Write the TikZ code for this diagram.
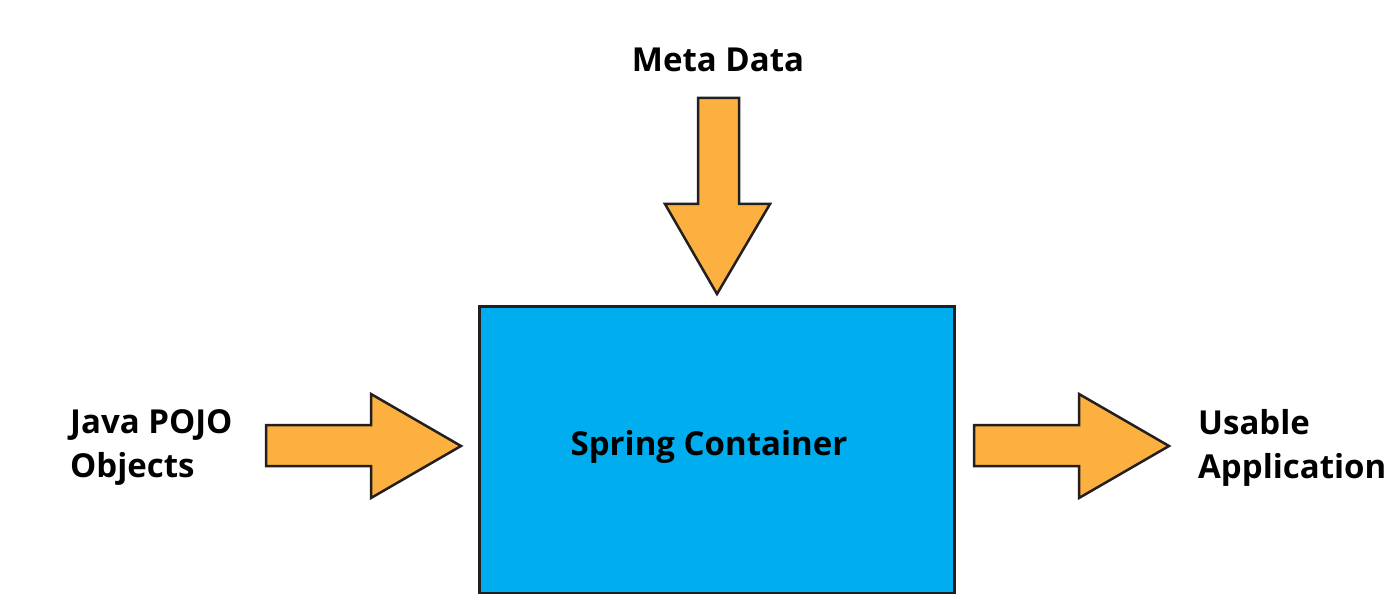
\documentclass[tikz,border=0pt]{standalone}
\usepackage{fontspec}
\setmainfont{Open Sans}
\usepackage{tikz}
\definecolor{springblue}{HTML}{00AEEF}
\definecolor{beanorange}{HTML}{FBB040}
\definecolor{edgegray}{HTML}{231F20}

\begin{document}
\begin{tikzpicture}[x=1pt, y=-1pt,
  txt/.style={font=\fontsize{33}{44}\selectfont\bfseries, text=black, inner sep=0pt},
  fatarrow/.style={fill=beanorange, draw=edgegray, line width=2.5pt, line join=miter}]
\useasboundingbox (0,0) rectangle (1400,601);

\node [draw=edgegray, line width=2.5pt, fill=springblue, anchor=north west,
  minimum width=475pt, minimum height=286pt] (container) at (478,305.5) {};
\node [txt, anchor=base] (spring) at (709,455) {Spring Container};

\node [txt, anchor=base] (meta) at (718,72) {Meta Data};
\node [txt, anchor=base west, align=left] (pojo) at (70,477) {Java POJO\\Objects};
\node [txt, anchor=base west, align=left] (usable) at (1198,478) {Usable\\Application};

% meta data arrow
\draw [fatarrow] (698,98) -- (739,98) -- (739,204) -- (770,204)
  -- (717,294) -- (665,204) -- (698,204) -- cycle;

% pojo arrow
\draw [fatarrow] (266,425) -- (371,425) -- (371,394) -- (461,446)
  -- (371,498) -- (371,466) -- (266,466) -- cycle;

% application arrow
\draw [fatarrow] (974,425) -- (1079,425) -- (1079,394) -- (1169,446)
  -- (1079,498) -- (1079,466) -- (974,466) -- cycle;
\end{tikzpicture}
\end{document}
